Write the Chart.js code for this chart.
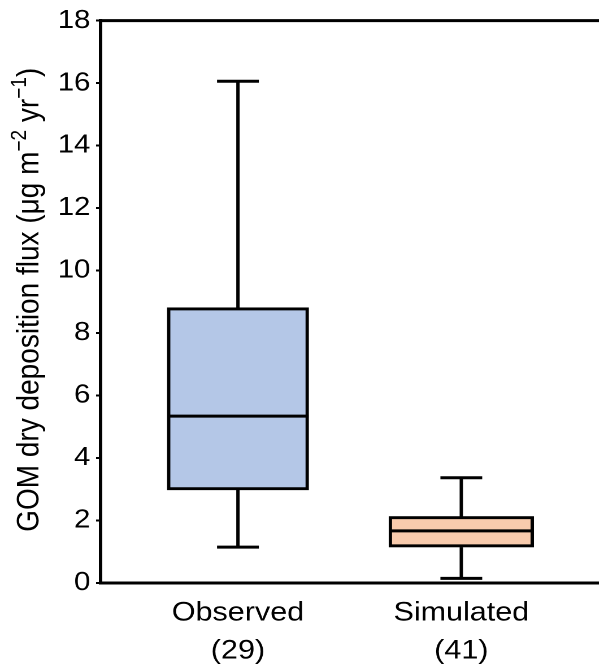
<!DOCTYPE html>
<html>
<head>
<meta charset="utf-8">
<script src="https://cdn.jsdelivr.net/npm/chart.js@4.4.1/dist/chart.umd.min.js"></script>
<style>
    html, body { margin: 0; padding: 0; background: #fff; overflow: hidden; }
    #wrap { width: 599px; height: 668px; overflow: hidden; }
    /* the source picture is a bit wider than tall, so stretch x a little */
    #chart { transform: scaleX(1.13); transform-origin: 0 0; }
</style>
</head>
<body>
<div id="wrap"><canvas id="chart" width="530" height="668"></canvas></div>
<script>
// box plot values
var categories = ['Observed', 'Simulated'];
var counts = [29, 41];
var mins = [1.15, 0.15];
var q1s = [2.98, 1.15];
var medians = [5.34, 1.67];
var q3s = [8.81, 2.13];
var maxs = [16.06, 3.37];
var fills = ['#b4c7e7', '#f8cbad'];
var boxWidths = [125, 128];
var capWidth = 37;

var FONT = "'Liberation Sans', Arial, sans-serif";

// whiskers + caps, drawn under the boxes
var whiskerPlugin = {
    id: 'whiskers',
    beforeDatasetsDraw: function(chart) {
        var ctx = chart.ctx;
        var x = chart.scales.x, y = chart.scales.y;
        ctx.save();
        ctx.strokeStyle = '#000';
        ctx.lineWidth = 3;
        categories.forEach(function(c, i) {
            var px = x.getPixelForValue(i + 1);
            ctx.beginPath();
            ctx.moveTo(px, y.getPixelForValue(maxs[i]));
            ctx.lineTo(px, y.getPixelForValue(q3s[i]));
            ctx.moveTo(px, y.getPixelForValue(q1s[i]));
            ctx.lineTo(px, y.getPixelForValue(mins[i]));
            ctx.moveTo(px - capWidth / 2, y.getPixelForValue(maxs[i]));
            ctx.lineTo(px + capWidth / 2, y.getPixelForValue(maxs[i]));
            ctx.moveTo(px - capWidth / 2, y.getPixelForValue(mins[i]));
            ctx.lineTo(px + capWidth / 2, y.getPixelForValue(mins[i]));
            ctx.stroke();
        });
        ctx.restore();
    },
    afterDatasetsDraw: function(chart) {
        var ctx = chart.ctx;
        var x = chart.scales.x, y = chart.scales.y;
        ctx.save();
        ctx.strokeStyle = '#000';
        ctx.lineWidth = 3;
        categories.forEach(function(c, i) {
            var px = x.getPixelForValue(i + 1);
            var py = y.getPixelForValue(medians[i]);
            ctx.beginPath();
            ctx.moveTo(px - boxWidths[i] / 2, py);
            ctx.lineTo(px + boxWidths[i] / 2, py);
            ctx.stroke();
        });
        ctx.restore();
    }
};

// top frame line and the rotated y title with superscripts
var framePlugin = {
    id: 'frame',
    afterDraw: function(chart) {
        var ctx = chart.ctx;
        var a = chart.chartArea;
        ctx.save();
        ctx.strokeStyle = '#000';
        ctx.lineWidth = 3;
        ctx.beginPath();
        ctx.moveTo(a.left - 1.5, a.top);
        ctx.lineTo(a.right, a.top);
        ctx.stroke();

        var parts = [
            { t: 'GOM dry deposition flux (\u03bcg m', sup: false },
            { t: '\u22122', sup: true },
            { t: ' yr', sup: false },
            { t: '\u22121', sup: true },
            { t: ')', sup: false }
        ];
        var big = '28px ' + FONT, small = '19px ' + FONT;
        var total = 0;
        parts.forEach(function(p) {
            ctx.font = p.sup ? small : big;
            p.w = ctx.measureText(p.t).width;
            total += p.w;
        });
        ctx.translate(24, (a.top + a.bottom) / 2 - 2);
        ctx.rotate(-Math.PI / 2);
        ctx.fillStyle = '#000';
        ctx.textBaseline = 'alphabetic';
        var pos = -total / 2;
        parts.forEach(function(p) {
            ctx.font = p.sup ? small : big;
            ctx.fillText(p.t, pos, p.sup ? -1 : 10);
            pos += p.w;
        });
        ctx.restore();
    }
};

var datasets = categories.map(function(c, i) {
    return {
        label: c,
        data: [{ x: i + 1, y: [q1s[i], q3s[i]] }],
        backgroundColor: fills[i],
        borderColor: '#000',
        borderWidth: 3,
        borderSkipped: false,
        barThickness: boxWidths[i],
        grouped: false
    };
});

new Chart(document.getElementById('chart'), {
    type: 'bar',
    data: { datasets: datasets },
    options: {
        responsive: false,
        animation: false,
        devicePixelRatio: 2,
        layout: { padding: { top: 18, right: 0, left: 0, bottom: 0 } },
        plugins: { legend: { display: false }, tooltip: { enabled: false } },
        scales: {
            x: {
                type: 'linear',
                offset: false,
                min: 0.385,
                max: 2.616,
                afterBuildTicks: function(scale) {
                    scale.ticks = categories.map(function(c, i) { return { value: i + 1 }; });
                },
                afterFit: function(scale) { scale.height = 85; },
                grid: { drawOnChartArea: false, drawTicks: false },
                border: { color: '#000', width: 3 },
                ticks: {
                    color: '#000',
                    padding: 11,
                    maxRotation: 0,
                    font: { family: FONT, size: 27, lineHeight: 1.41 },
                    callback: function(v) {
                        var i = Math.round(v) - 1;
                        return [categories[i], '(' + counts[i] + ')'];
                    }
                }
            },
            y: {
                min: 0,
                max: 18,
                afterFit: function(scale) { scale.width = 89; },
                grid: { drawOnChartArea: false, tickLength: 4, tickColor: '#000', tickWidth: 2 },
                border: { color: '#000', width: 3 },
                ticks: {
                    stepSize: 2,
                    color: '#000',
                    padding: 5,
                    font: { family: FONT, size: 26 }
                }
            }
        }
    },
    plugins: [whiskerPlugin, framePlugin]
});
</script>
</body>
</html>
